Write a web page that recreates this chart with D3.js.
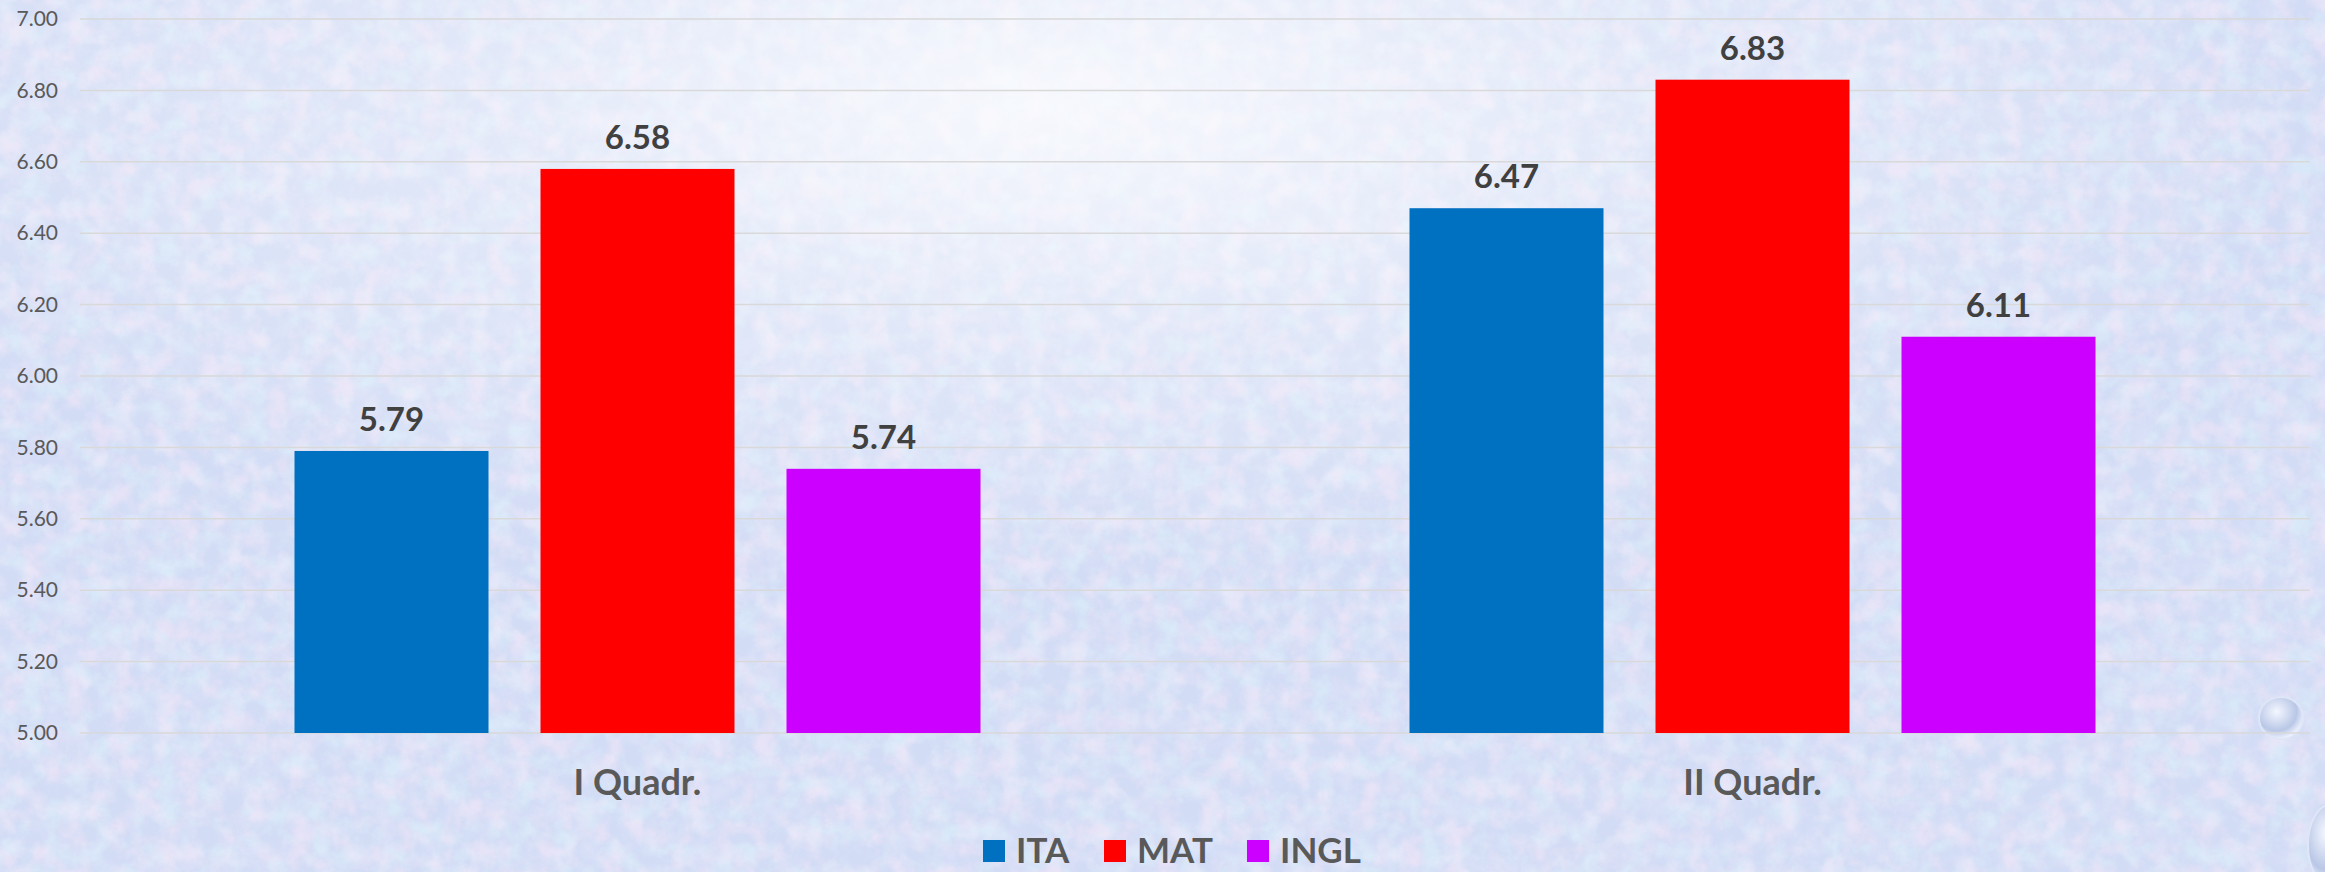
<!DOCTYPE html>
<html>
<head>
<meta charset="utf-8">
<script src="https://cdn.jsdelivr.net/npm/d3@7"></script>
<style>
  html, body { margin: 0; padding: 0; overflow: hidden; }
  body { width: 2325px; height: 872px; }
</style>
</head>
<body>
<div id="chart"></div>
<script>
// data
const categories = ["I Quadr.", "II Quadr."];
const series = ["ITA", "MAT", "INGL"];
const ita = [5.79, 6.47];
const mat = [6.58, 6.83];
const ingl = [5.74, 6.11];
const yTicks = [5.0, 5.2, 5.4, 5.6, 5.8, 6.0, 6.2, 6.4, 6.6, 6.8, 7.0];

const colors = { ITA: "#0070c0", MAT: "#ff0000", INGL: "#cc00ff" };
const valuesBySeries = { ITA: ita, MAT: mat, INGL: ingl };

const width = 2325, height = 872;
const font = "Lato, 'Open Sans', sans-serif";

const svg = d3.select("#chart").append("svg")
  .attr("width", width)
  .attr("height", height)
  .style("display", "block");

// background: pastel speckled paper (pink / cyan / lavender blotches)
const defs = svg.append("defs");
function blotch(id, seed, rgb) {
  const f = defs.append("filter").attr("id", id)
    .attr("x", 0).attr("y", 0).attr("width", "100%").attr("height", "100%");
  f.append("feTurbulence")
    .attr("type", "fractalNoise")
    .attr("baseFrequency", 0.045)
    .attr("numOctaves", 4)
    .attr("seed", seed);
  f.append("feColorMatrix")
    .attr("type", "matrix")
    .attr("values", `0 0 0 0 ${rgb[0]}  0 0 0 0 ${rgb[1]}  0 0 0 0 ${rgb[2]}  2.5 0 0 0 -1.05`);
}
blotch("pink", 3, [0.93, 0.80, 0.94]);
blotch("cyan", 11, [0.74, 0.90, 0.97]);
blotch("lav", 23, [0.74, 0.78, 0.95]);

const glow = defs.append("radialGradient").attr("id", "glow")
  .attr("cx", 0.45).attr("cy", 0.12).attr("r", 0.55);
glow.append("stop").attr("offset", "0%").attr("stop-color", "#ffffff").attr("stop-opacity", 0.8);
glow.append("stop").attr("offset", "50%").attr("stop-color", "#ffffff").attr("stop-opacity", 0.3);
glow.append("stop").attr("offset", "100%").attr("stop-color", "#ffffff").attr("stop-opacity", 0);

svg.append("rect").attr("width", width).attr("height", height).attr("fill", "#d2dcf5");
["lav", "cyan", "pink"].forEach(id => {
  svg.append("rect").attr("width", width).attr("height", height)
    .attr("filter", `url(#${id})`).attr("opacity", 0.55);
});
svg.append("rect").attr("width", width).attr("height", height).attr("fill", "url(#glow)");

// droplet ornaments at the right edge
const drop = defs.append("radialGradient").attr("id", "drop")
  .attr("cx", 0.4).attr("cy", 0.35).attr("r", 0.65);
drop.append("stop").attr("offset", "0%").attr("stop-color", "#f4f7ff");
drop.append("stop").attr("offset", "70%").attr("stop-color", "#b9c7e6");
drop.append("stop").attr("offset", "100%").attr("stop-color", "#eef2ff");
svg.append("ellipse").attr("cx", 2281).attr("cy", 718).attr("rx", 22).attr("ry", 21)
  .attr("fill", "url(#drop)").attr("stroke", "#dfe6f7").attr("stroke-width", 2);
svg.append("ellipse").attr("cx", 2330).attr("cy", 845).attr("rx", 22).attr("ry", 40)
  .attr("fill", "url(#drop)").attr("stroke", "#dfe6f7").attr("stroke-width", 2);

// scales
const plotLeft = 80, plotRight = 2310;
const y = d3.scaleLinear().domain([5, 7]).range([733, 19]);

const x0 = d3.scaleBand().domain(categories).range([plotLeft, plotRight]).padding(0);
const groupW = 686;
const x1 = d3.scaleBand().domain(series).range([0, groupW])
  .paddingInner(52 / 246).paddingOuter(0);
const groupOffset = (x0.bandwidth() - groupW) / 2;

// gridlines
svg.append("g").selectAll("line")
  .data(yTicks)
  .enter().append("line")
  .attr("x1", plotLeft).attr("x2", plotRight)
  .attr("y1", d => y(d)).attr("y2", d => y(d))
  .attr("stroke", "#d9d9d9")
  .attr("stroke-width", 1.5);

// y axis labels
const yAxis = d3.axisLeft(y).tickValues(yTicks).tickFormat(d3.format(".2f")).tickSize(0).tickPadding(0);
const gy = svg.append("g").attr("transform", "translate(58,0)").call(yAxis);
gy.select(".domain").remove();
gy.selectAll("text")
  .attr("fill", "#595959")
  .style("font-family", font)
  .style("font-size", "21px");

// bars
const rows = [];
categories.forEach((c, i) => series.forEach(s => rows.push({ cat: c, key: s, value: valuesBySeries[s][i] })));

const groups = svg.append("g").selectAll("g")
  .data(rows)
  .enter().append("g")
  .attr("transform", d => `translate(${x0(d.cat) + groupOffset + x1(d.key)},0)`);

groups.append("rect")
  .attr("x", 0)
  .attr("y", d => y(d.value))
  .attr("width", x1.bandwidth())
  .attr("height", d => y(5) - y(d.value))
  .attr("fill", d => colors[d.key]);

groups.append("text")
  .attr("x", x1.bandwidth() / 2)
  .attr("y", d => y(d.value) - 20)
  .attr("text-anchor", "middle")
  .attr("fill", "#404040")
  .style("font-family", font)
  .style("font-weight", "bold")
  .style("font-size", "33px")
  .text(d => d.value.toFixed(2));

// category labels
svg.append("g").selectAll("text")
  .data(categories)
  .enter().append("text")
  .attr("x", d => x0(d) + x0.bandwidth() / 2)
  .attr("y", 795)
  .attr("text-anchor", "middle")
  .attr("fill", "#595959")
  .style("font-family", font)
  .style("font-weight", "bold")
  .style("font-size", "36px")
  .text(d => d);

// legend
const legendX = [983, 1104, 1247];
const legend = svg.append("g").selectAll("g")
  .data(series)
  .enter().append("g")
  .attr("transform", (d, i) => `translate(${legendX[i]},840)`);
legend.append("rect")
  .attr("width", 22).attr("height", 22)
  .attr("fill", d => colors[d]);
legend.append("text")
  .attr("x", 33).attr("y", 23)
  .attr("fill", "#595959")
  .style("font-family", font)
  .style("font-weight", "bold")
  .style("font-size", "35px")
  .text(d => d);
</script>
</body>
</html>
